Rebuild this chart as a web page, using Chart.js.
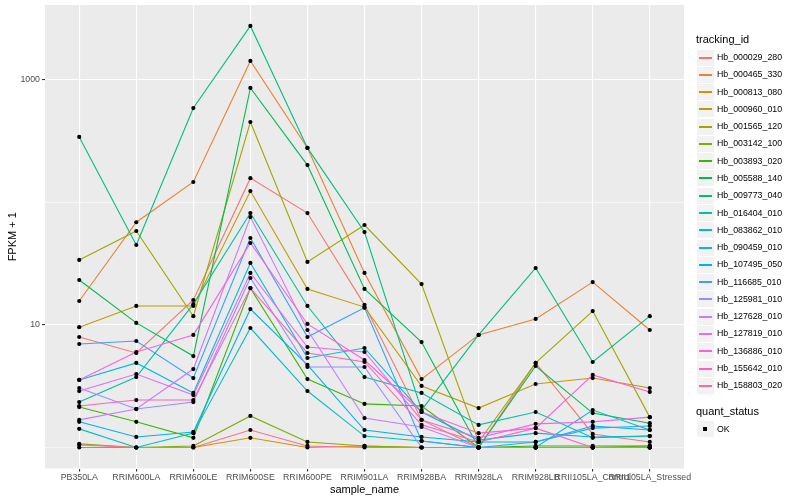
<!DOCTYPE html>
<html>
<head>
<meta charset="utf-8">
<script src="https://cdn.jsdelivr.net/npm/chart.js@4.4.1/dist/chart.umd.min.js"></script>
<style>
  body{margin:0;background:#fff;}
  #wrap{position:relative;width:800px;height:500px;font-family:"Liberation Sans",Arial,sans-serif;}
  #legend div{position:absolute;white-space:nowrap;}
  .key{width:17px;height:16px;background:#F2F2F2;}
  .key span{position:absolute;left:2px;right:2px;top:7px;height:2px;}
  .lab{font-size:8.8px;color:#000;}
  .ttl{font-size:11px;color:#000;}
</style>
</head>
<body>
<div id="wrap">
  <canvas id="chart" width="800" height="500"></canvas>
  <div id="legend"></div>
</div>
<script>
const categories = ["PB350LA","RRIM600LA","RRIM600LE","RRIM600SE","RRIM600PE","RRIM901LA","RRIM928BA","RRIM928LA","RRIM928LB","RRII105LA_Control","RRII105LA_Stressed"];

const trackingIds = ["Hb_000029_280","Hb_000465_330","Hb_000813_080","Hb_000960_010","Hb_001565_120","Hb_003142_100","Hb_003893_020","Hb_005588_140","Hb_009773_040","Hb_016404_010","Hb_083862_010","Hb_090459_010","Hb_107495_050","Hb_116685_010","Hb_125981_010","Hb_127628_010","Hb_127819_010","Hb_136886_010","Hb_155642_010","Hb_158803_020"];

const colors = ["#F8766D","#EA8331","#D89000","#C09B00","#A3A500","#7CAE00","#39B600","#00BB4E","#00BF7D","#00C1A3","#00BFC4","#00BAE0","#00B0F6","#35A2FF","#9590FF","#C77CFF","#E76BF3","#FA62DB","#FF62BC","#FF6C91"];

// FPKM + 1, one list per tracking_id, in category order
const hb000029 = [7.98, 5.91, 16.0, 158, 82, 14.6, 1.68, 1.0, 4.90, 1.29, 1.11];
const hb000465 = [15.7, 69, 147, 1430, 279, 26.6, 3.62, 8.3, 11.2, 22.4, 9.1];
const hb000813 = [1.0, 1.0, 1.0, 1.20, 1.0, 1.03, 1.0, 1.0, 1.0, 1.0, 1.0];
const hb000960 = [9.6, 14.3, 14.3, 124, 19.7, 14.0, 3.18, 2.10, 3.30, 3.69, 3.06];
const hb001565 = [34, 58.5, 11.8, 454, 32.7, 65.5, 21.6, 1.11, 4.90, 13.0, 1.77];
const hb003142 = [1.07, 1.0, 1.03, 1.81, 1.11, 1.03, 1.0, 1.0, 1.0, 1.0, 1.03];
const hb003893 = [2.14, 1.62, 1.20, 20.0, 3.62, 2.27, 2.18, 1.0, 1.03, 1.03, 1.03];
const hb005588 = [23.3, 10.4, 5.58, 861, 202, 19.7, 7.26, 1.0, 4.63, 1.91, 1.58];
const hb009773 = [343, 45, 590, 2760, 279, 57.4, 2.02, 8.3, 29.2, 4.99, 11.8];
const hb016404 = [2.35, 3.76, 14.8, 82, 14.3, 3.76, 2.79, 1.53, 1.95, 1.20, 1.24];
const hb083862 = [1.42, 1.0, 1.31, 9.45, 2.89, 1.24, 1.13, 1.0, 1.0, 2.02, 1.39];
const hb090459 = [3.56, 4.90, 2.79, 32.1, 5.38, 6.49, 1.95, 1.15, 1.31, 1.22, 1.24];
const hb107495 = [1.62, 1.22, 1.34, 13.5, 4.72, 1.39, 1.22, 1.11, 1.11, 1.50, 1.39];
const hb116685 = [7.0, 7.40, 3.69, 51.3, 7.98, 13.8, 1.13, 1.0, 1.11, 1.44, 1.50];
const hb125981 = [3.06, 2.06, 2.35, 24.2, 4.54, 4.54, 1.0, 1.0, 1.0, 1.0, 1.0];
const hb127628 = [1.68, 2.06, 4.37, 76, 9.1, 1.74, 1.47, 1.0, 1.0, 1.0, 1.0];
const hb127819 = [2.89, 3.98, 2.68, 26.6, 6.61, 6.02, 1.68, 1.20, 1.56, 1.62, 1.77];
const hb136886 = [3.56, 6.02, 8.3, 46.7, 10.2, 5.18, 1.95, 1.31, 1.44, 3.91, 2.84];
const hb155642 = [2.18, 2.44, 2.44, 20.0, 5.91, 4.99, 1.53, 1.11, 1.44, 1.0, 1.0];
const hb158803 = [1.05, 1.0, 1.0, 1.39, 1.03, 1.0, 1.0, 1.0, 1.0, 1.0, 1.0];

const seriesValues = [hb000029,hb000465,hb000813,hb000960,hb001565,hb003142,hb003893,hb005588,hb009773,hb016404,hb083862,hb090459,hb107495,hb116685,hb125981,hb127628,hb127819,hb136886,hb155642,hb158803];

const yBreaks = [10, 1000];
const yMinor = [1, 100];

const font = "'Liberation Sans', Arial, sans-serif";

var datasets = [];
var allPoints = [];
seriesValues.forEach((vals, i) => {
  const pts = vals.map((v, j) => ({x: j, y: v}));
  allPoints = allPoints.concat(pts);
  datasets.push({
    label: trackingIds[i],
    data: pts,
    borderColor: colors[i],
    borderWidth: 1.1,
    pointRadius: 0,
    fill: false,
    tension: 0,
    order: seriesValues.length - i
  });
});
datasets.push({
  type: "scatter",
  label: "OK",
  data: allPoints,
  pointRadius: 2.1,
  pointBackgroundColor: "#000",
  pointBorderWidth: 0,
  showLine: false,
  order: 0
});

const panelBg = {
  id: "panelBg",
  beforeDraw(chart) {
    const a = chart.chartArea;
    const ctx = chart.ctx;
    ctx.save();
    ctx.fillStyle = "#EBEBEB";
    ctx.fillRect(a.left, a.top, a.right - a.left, a.bottom - a.top);
    ctx.restore();
  }
};

function noPad(axis) {
  axis.paddingTop = 0;
  axis.paddingBottom = 0;
  axis.paddingLeft = 0;
  axis.paddingRight = 0;
}

new Chart("chart", {
  type: "line",
  data: { datasets: datasets },
  plugins: [panelBg],
  options: {
    responsive: false,
    animation: false,
    layout: { padding: { top: 5, right: 116, left: 0, bottom: 0 } },
    plugins: { legend: { display: false }, tooltip: { enabled: false } },
    scales: {
      x: {
        type: "linear",
        min: -0.6,
        max: categories.length - 1 + 0.6,
        afterBuildTicks: axis => { axis.ticks = categories.map((c, i) => ({ value: i })); },
        afterFit: axis => { axis.height = 31.5; noPad(axis); },
        border: { display: false },
        grid: { color: "#FFFFFF", lineWidth: 1.1, tickLength: 3, tickColor: "#333333" },
        ticks: {
          autoSkip: false, maxRotation: 0, minRotation: 0, padding: 1,
          color: "#4D4D4D", font: { family: font, size: 8.8 },
          callback: v => categories[v]
        },
        title: { display: true, text: "sample_name", color: "#000", font: { family: font, size: 11 }, padding: { top: 0, bottom: 3 } }
      },
      y: {
        type: "logarithmic",
        min: 0.674,
        max: 4093,
        afterBuildTicks: axis => {
          axis.ticks = yMinor.concat(yBreaks).sort((a, b) => a - b).map(v => ({ value: v }));
        },
        afterFit: axis => { axis.width = 45; noPad(axis); },
        border: { display: false },
        grid: {
          color: "#FFFFFF",
          lineWidth: c => yBreaks.includes(c.tick.value) ? 1.1 : 0.55,
          tickLength: 3,
          tickColor: c => yBreaks.includes(c.tick.value) ? "#333333" : "rgba(0,0,0,0)"
        },
        ticks: {
          autoSkip: false, padding: 2,
          color: "#4D4D4D", font: { family: font, size: 8.8 },
          callback: v => yBreaks.includes(v) ? String(v) : ""
        },
        title: { display: true, text: "FPKM + 1", color: "#000", font: { family: font, size: 11 }, padding: { top: 6, bottom: 2 } }
      }
    }
  }
});

// ggplot style legend on the right
const legend = document.querySelector("#legend");
function addDiv(cls, left, top, html) {
  const d = document.createElement("div");
  d.className = cls;
  d.style.left = left + "px";
  d.style.top = Math.round(top) + "px";
  d.innerHTML = html;
  legend.appendChild(d);
  return d;
}
addDiv("ttl", 696, 33, "tracking_id");
trackingIds.forEach((id, i) => {
  const top = 49.5 + i * 17.28;
  const k = addDiv("key", 697, top, "<span></span>");
  k.firstChild.style.background = colors[i];
  addDiv("lab", 717, top + 2.5, id);
});
addDiv("ttl", 696, 405, "quant_status");
const ok = addDiv("key", 697, 421, "<span></span>");
ok.firstChild.style.cssText = "left:6px;right:7px;top:6px;height:4px;background:#000";
addDiv("lab", 717, 423.5, "OK");
</script>
</body>
</html>
